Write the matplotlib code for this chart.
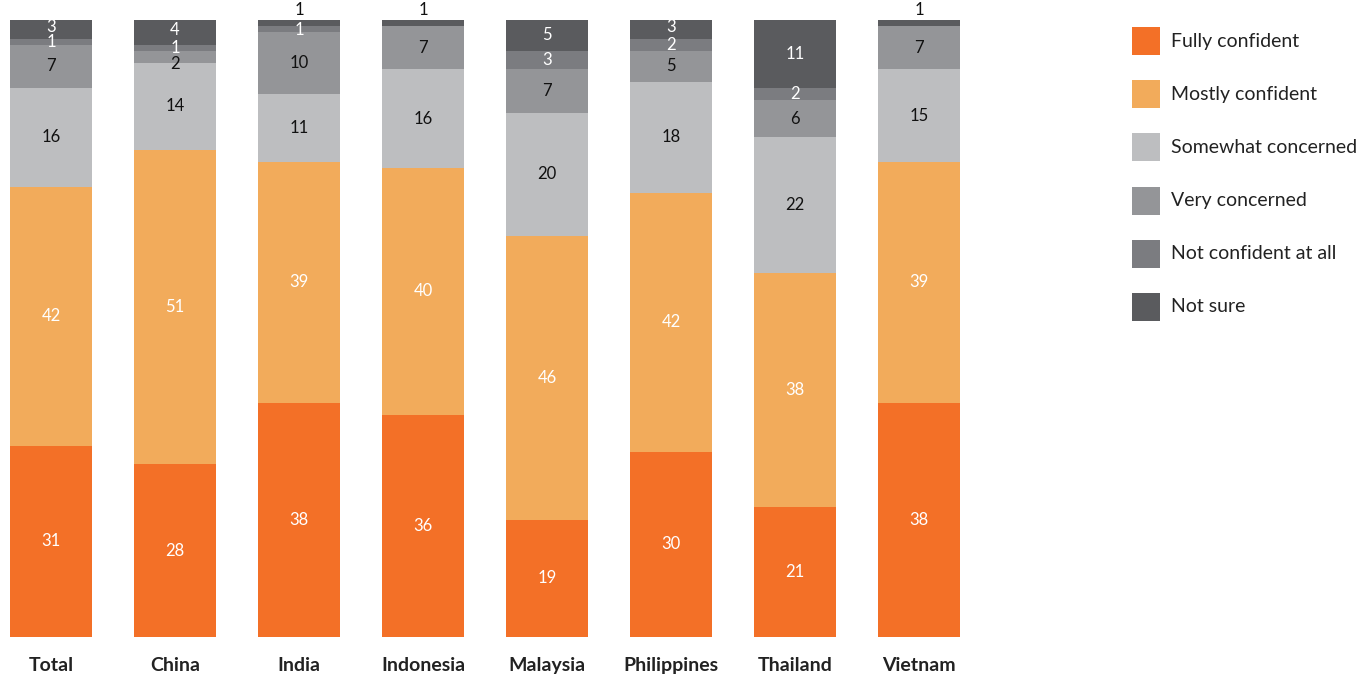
import numpy as np
import matplotlib
matplotlib.use("Agg")
import matplotlib.pyplot as plt
from matplotlib.patches import Rectangle

plt.rcParams['font.family'] = ['Lato', 'DejaVu Sans']

countries = ['Total', 'China', 'India', 'Indonesia', 'Malaysia', 'Philippines', 'Thailand', 'Vietnam']
categories = ['Fully confident', 'Mostly confident', 'Somewhat concerned',
              'Very concerned', 'Not confident at all', 'Not sure']

fully_confident = [31, 28, 38, 36, 19, 30, 21, 38]
mostly_confident = [42, 51, 39, 40, 46, 42, 38, 39]
somewhat_concerned = [16, 14, 11, 16, 20, 18, 22, 15]
very_concerned = [7, 2, 10, 7, 7, 5, 6, 7]
not_confident = [1, 1, 1, 0, 3, 2, 2, 0]
not_sure = [3, 4, 1, 1, 5, 3, 11, 1]

series = [fully_confident, mostly_confident, somewhat_concerned,
          very_concerned, not_confident, not_sure]
colors = ['#F37027', '#F2AB5B', '#BDBEC0', '#949598', '#7B7C80', '#5A5B5E']
text_colors = ['white', 'white', '#111111', '#111111', 'white', 'white']

fig = plt.figure(figsize=(13.61, 6.77), dpi=100)
ax = fig.add_axes([10 / 1361, 40 / 677, 950 / 1361, 617 / 677])

x = np.arange(len(countries))
width = 0.66
bottom = np.zeros(len(countries))
for k, vals in enumerate(series):
    vals = np.array(vals, dtype=float)
    ax.bar(x, vals, width, bottom=bottom, color=colors[k], linewidth=0)
    for i, v in enumerate(vals):
        if v <= 0:
            continue
        if k == len(series) - 1 and v == 1:
            # small "not sure" share goes above the bar
            ax.text(x[i], bottom[i] + v + 0.3, f'{int(v)}', ha='center', va='bottom',
                    color='#111111', fontsize=12)
        else:
            yc = bottom[i] + v / 2
            # thin segments stacked at the top: nudge apart a little
            if v <= 1:
                yc -= 0.1
            elif k == len(series) - 1 and v <= 4:
                yc += 0.4
            elif k == 3 and v <= 2:
                yc -= 1.2
            ax.text(x[i], yc, f'{int(v)}', ha='center', va='center',
                    color=text_colors[k], fontsize=12)
    bottom += vals

ax.set_xlim(-0.33, len(countries) - 1 + 0.33)
ax.set_ylim(0, 100)
ax.set_xticks(x)
ax.set_xticklabels(countries, fontsize=14, fontweight='bold', color='#222222')
ax.tick_params(axis='x', length=0, pad=14.5)
ax.set_yticks([])
for s in ax.spines.values():
    s.set_visible(False)

# legend on the right
for k, name in enumerate(categories):
    yc = 677 - (41 + 53.2 * k)
    fig.add_artist(Rectangle((1132 / 1361, (yc - 14) / 677), 28 / 1361, 28 / 677,
                             transform=fig.transFigure, color=colors[k], linewidth=0))
    fig.text(1171 / 1361, yc / 677, name, ha='left', va='center', fontsize=14, color='#222222')

fig.savefig('out.png', dpi=100)
